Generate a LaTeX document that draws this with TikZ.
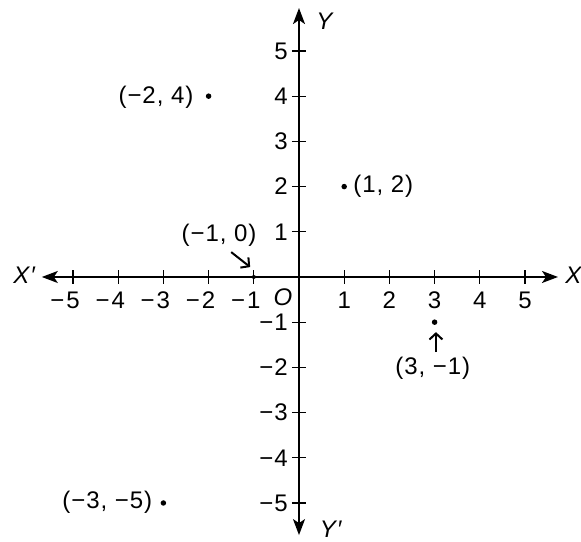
\documentclass[tikz,border=0pt]{standalone}
\usepackage{fontspec}
\setmainfont{Liberation Sans}[LetterSpace=4]
\usetikzlibrary{arrows.meta}
\begin{document}
\begin{tikzpicture}[x=45.2pt,y=45.2pt,
  axis/.style={line width=1.8pt,{Stealth[length=16pt,width=12pt,inset=4pt]}-{Stealth[length=16pt,width=12pt,inset=4pt]}},
  tickmark/.style={line width=1.3pt},
  lbl/.style={font=\fontsize{24}{28}\selectfont, inner sep=0pt},
  dotmark/.style={circle,fill,inner sep=0pt,minimum size=5.5pt},
  pointer/.style={line width=2pt,-{Straight Barb[length=6pt,width=13pt]}}]
\useasboundingbox (-6.615,-5.863) rectangle (6.239,6.128);
% axes
\coordinate (xl) at (-5.69,0);
\coordinate (xr) at (5.73,0);
\coordinate (yt) at (0,5.95);
\coordinate (yb) at (0,-5.71);
\coordinate (o) at (0,0);
\draw[axis] (xl) -- (xr);
\draw[axis] (yb) -- (yt);
% axis names
\node[lbl] (Xp) at (-6.08,0.04) {\itshape X′};
\node[lbl] (X) at (6.07,0.04) {\itshape X};
\node[lbl] (Y) at (0.56,5.66) {\itshape Y};
\node[lbl] (Yp) at (0.70,-5.58) {\itshape Y′};
\node[lbl,anchor=center] (O) at ([xshift=-16pt,yshift=-20pt]o) {\itshape O};
% ticks and labels
\foreach \i in {1,...,5}{
  \draw[tickmark] ([yshift=-7pt]\i,0) -- ([yshift=7pt]\i,0);
  \draw[tickmark] ([yshift=-7pt]-\i,0) -- ([yshift=7pt]-\i,0);
  \draw[tickmark] ([xshift=-7pt]0,\i) -- ([xshift=7pt]0,\i);
  \draw[tickmark] ([xshift=-7pt]0,-\i) -- ([xshift=7pt]0,-\i);
  \node[lbl,anchor=north] (xp\i) at ([yshift=-15pt]\i,0) {\i};
  \node[lbl,anchor=north] (xn\i) at ([yshift=-15pt]-\i,0) {\llap{−\kern2pt}\i};
  \node[lbl,anchor=east] (yp\i) at ([xshift=-11pt]0,\i) {\i};
  \node[lbl,anchor=east] (yn\i) at ([xshift=-11pt]0,-\i) {−\kern1pt\i};
}
% points
\node[dotmark] (pa) at (-2,4) {};
\node[lbl,anchor=east] (la) at ([xshift=-15pt,yshift=-1pt]pa.center) {(−2, 4)};
\node[dotmark] (pb) at (1,2) {};
\node[lbl,anchor=west] (lb) at ([xshift=9pt]pb.center) {(1, 2)};
\node[dotmark,minimum size=4pt] (pc) at (-1,0) {};
\node[lbl] (lc) at (-1.77,0.93) {(−1, 0)};
\coordinate (ca) at (-1.50,0.55);
\coordinate (cb) at (-1.08,0.22);
\draw[pointer] (ca) -- (cb);
\node[dotmark] (pd) at (3,-1) {};
\node[lbl] (ld) at (2.96,-2.01) {(3, −1)};
\coordinate (da) at (3.03,-1.66);
\coordinate (db) at (3.03,-1.22);
\draw[pointer] (da) -- (db);
\node[dotmark] (pe) at (-3,-5) {};
\node[lbl,anchor=east] (le) at ([xshift=-11pt,yshift=1pt]pe.center) {(−3, −5)};
\end{tikzpicture}
\end{document}
